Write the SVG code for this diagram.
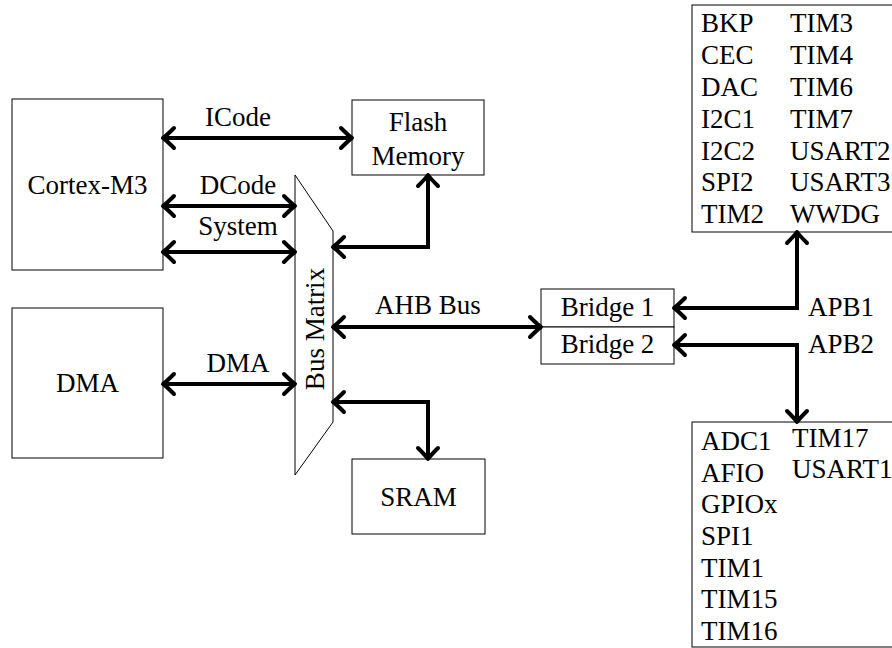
<svg xmlns="http://www.w3.org/2000/svg" width="892" height="648" viewBox="0 0 892 648">
<style>
.box{fill:#fff;stroke:#000;stroke-width:1}
text{font-family:'Liberation Serif','DejaVu Serif',serif;font-size:27px;fill:#000}
.m{text-anchor:middle}
.c{fill:none;stroke:#000;stroke-width:4;marker-start:url(#ah);marker-end:url(#ah)}
</style>
<defs>
<marker id="ah" markerUnits="userSpaceOnUse" viewBox="-16 -14 20 28" refX="0" refY="0" markerWidth="20" markerHeight="28" orient="auto-start-reverse" overflow="visible">
<path d="M -11 -10 Q -3 -2 0 0 Q -3 2 -11 10" fill="none" stroke="#000" stroke-width="4" stroke-linecap="round" stroke-linejoin="round"/>
</marker>
</defs>
<rect width="892" height="648" fill="#fff"/>
<g font-family="Liberation Serif, serif">
<g id="cortex"><rect class="box" x="12" y="99" width="151" height="171"/><text class="m" x="87.5" y="194">Cortex-M3</text></g>
<g id="dma"><rect class="box" x="12" y="308" width="151" height="150"/><text class="m" x="87.5" y="392">DMA</text></g>
<g id="busmatrix"><polygon class="box" points="295,175 333,231 333,422 295,475"/><text class="m" transform="translate(324,329) rotate(-90)">Bus Matrix</text></g>
<g id="flash"><rect class="box" x="352" y="100" width="132" height="75"/><text class="m" x="418" y="131">Flash</text><text class="m" x="418" y="165">Memory</text></g>
<g id="sram"><rect class="box" x="352" y="459" width="133" height="75"/><text class="m" x="418.5" y="506">SRAM</text></g>
<g id="bridge1"><rect class="box" x="541" y="289" width="133" height="38"/><text class="m" x="607.5" y="316">Bridge 1</text></g>
<g id="bridge2"><rect class="box" x="541" y="327" width="133" height="37"/><text class="m" x="607.5" y="353">Bridge 2</text></g>
<g id="apb1periph"><rect class="box" x="692" y="5" width="220" height="227"/>
<text x="701" y="32">BKP</text><text x="790" y="32">TIM3</text>
<text x="701" y="64">CEC</text><text x="790" y="64">TIM4</text>
<text x="701" y="96">DAC</text><text x="790" y="96">TIM6</text>
<text x="701" y="128">I2C1</text><text x="790" y="128">TIM7</text>
<text x="701" y="160">I2C2</text><text x="790" y="160">USART2</text>
<text x="701" y="191">SPI2</text><text x="790" y="191">USART3</text>
<text x="701" y="223">TIM2</text><text x="790" y="223">WWDG</text>
</g>
<g id="apb2periph"><rect class="box" x="692" y="422" width="220" height="225"/>
<text x="701" y="450">ADC1</text><text x="792" y="447">TIM17</text>
<text x="701" y="482">AFIO</text><text x="792" y="478">USART1</text>
<text x="701" y="513">GPIOx</text>
<text x="701" y="545">SPI1</text>
<text x="701" y="577">TIM1</text>
<text x="701" y="608">TIM15</text>
<text x="701" y="640">TIM16</text>
</g>
<g id="connectors">
<path class="c" d="M163,138 H352"/>
<path class="c" d="M163,206 H295"/>
<path class="c" d="M163,252 H295"/>
<path class="c" d="M163,384 H295"/>
<path class="c" d="M333,247 H428 V175"/>
<path class="c" d="M333,327 H541"/>
<path class="c" d="M333,402 H428 V459"/>
<path class="c" d="M674,308 H797 V232"/>
<path class="c" d="M674,345 H797 V422"/>
<text class="m" x="238" y="126">ICode</text>
<text class="m" x="238" y="194">DCode</text>
<text class="m" x="238" y="235">System</text>
<text class="m" x="238" y="372">DMA</text>
<text class="m" x="428" y="314">AHB Bus</text>
<text x="808" y="316">APB1</text>
<text x="808" y="353">APB2</text>
</g>
</g>
</svg>
